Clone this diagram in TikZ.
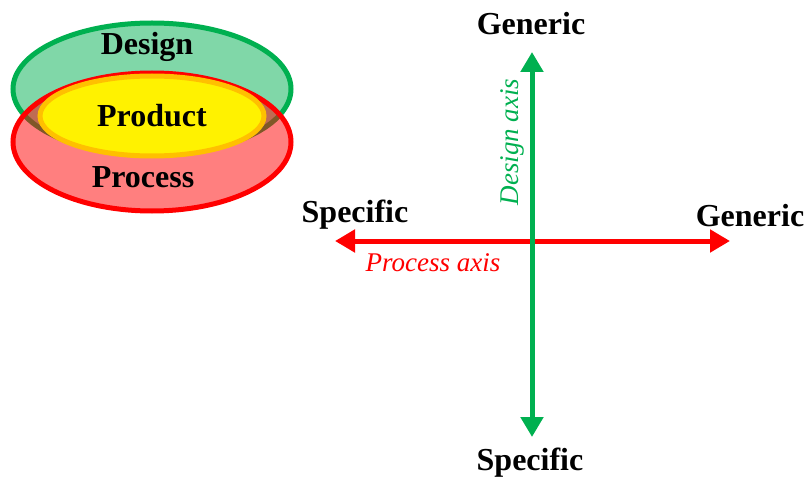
\documentclass[tikz,border=0pt]{standalone}
\usepackage{fontspec}
\setmainfont{Liberation Serif}
\usetikzlibrary{arrows.meta}
\definecolor{dgreen}{RGB}{0,176,80}
\definecolor{dorange}{RGB}{255,192,0}
\tikzset{
  lbl/.style={font=\fontsize{32}{36}\selectfont\bfseries, text=black, inner sep=0pt},
  axlbl/.style={font=\fontsize{27}{30}\selectfont\itshape, inner sep=0pt},
  axis/.style={line width=5pt, -{Triangle[length=20pt,width=22pt]}, shorten >=0pt},
}
\begin{document}
\begin{tikzpicture}[x=1pt,y=-1pt]
\useasboundingbox (0,0) rectangle (811,484);
% three overlapping sets
\draw[line width=5pt, draw=dgreen, fill=dgreen!50] (152,89) ellipse [x radius=139, y radius=66];
\draw[line width=5pt, draw=red, fill=red, fill opacity=0.5] (152,142) ellipse [x radius=139, y radius=69];
\draw[line width=5pt, draw=dorange, fill=yellow] (152,116) ellipse [x radius=112, y radius=40];
\node[lbl] (design) at (147,47) {Design};
\node[lbl] (product) at (152,116) {Product};
\node[lbl] (process) at (143,177) {Process};
% axes
\coordinate (hl) at (335,241);
\coordinate (hr) at (730,241);
\coordinate (vt) at (532,52);
\coordinate (vb) at (532,437);
\coordinate (hc) at (532,241);
\draw[axis, draw=red, fill=red] (hc) -- (hl);
\draw[axis, draw=red, fill=red] (hc) -- (hr);
\draw[axis, draw=dgreen, fill=dgreen] (hc) -- (vt);
\draw[axis, draw=dgreen, fill=dgreen] (hc) -- (vb);
\node[lbl] (gtop) at (531,24) {Generic};
\node[lbl] (sbot) at (530,463) {Specific};
\node[lbl] (sleft) at (355,215) {Specific};
\node[lbl] (gright) at (750,216) {Generic};
\node[axlbl, text=red] (paxis) at (433,263) {Process axis};
\node[axlbl, text=dgreen, rotate=90] (daxis) at (512,142) {Design axis};
\end{tikzpicture}
\end{document}
